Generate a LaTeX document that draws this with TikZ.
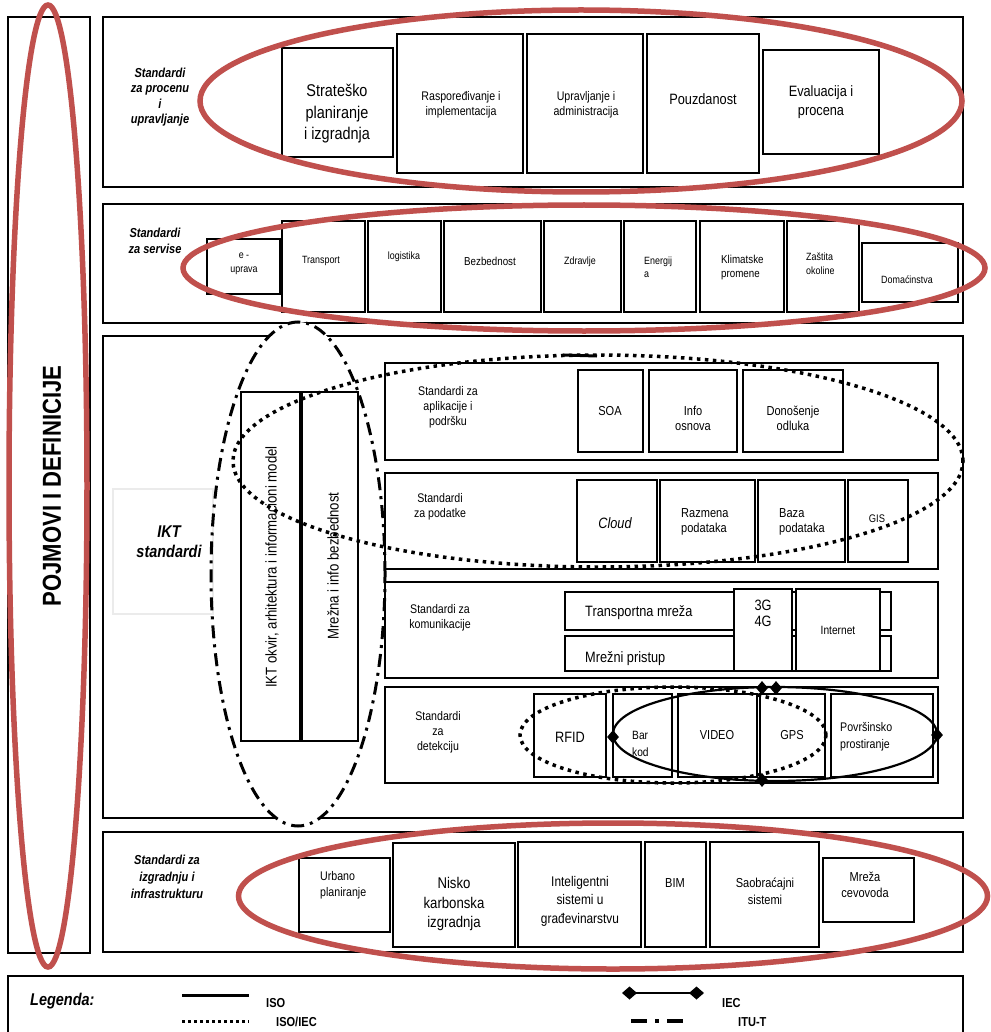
\documentclass[tikz,border=0pt]{standalone}
\usepackage{fontspec}
\setmainfont{Liberation Sans}[FakeStretch=0.85]
\usetikzlibrary{shapes.geometric,arrows.meta}
\definecolor{redE}{RGB}{192,80,77}
\newcommand\fz[2]{\fontsize{#1pt}{#2pt}\selectfont}
\begin{document}
\begin{tikzpicture}[x=1pt,y=-1pt,
  sec/.style={draw, line width=1.3pt, inner sep=0pt},
  box/.style={draw, line width=1.3pt, fill=white, inner sep=0pt},
  lbl/.style={font=\fz{13}{15.5}\bfseries\itshape, align=center, inner sep=0pt},
  tx/.style={align=center, inner sep=0pt},
  txl/.style={align=left, inner sep=0pt, anchor=west},
  redell/.style={ellipse, draw=redE, line width=5.5pt, inner sep=0pt},
  dotell/.style={ellipse, draw, line width=3.5pt, dash pattern=on 3.5pt off 4.5pt, inner sep=0pt},
  ddell/.style={ellipse, draw, line width=3pt, dash pattern=on 13pt off 6pt on 3pt off 6pt, inner sep=0pt},
  solell/.style={ellipse, draw, line width=2.2pt, inner sep=0pt},
  dia/.style={diamond, fill=black, minimum width=12pt, minimum height=14pt, inner sep=0pt},
]
\newcommand\bx[5]{\node[box, minimum width=#4pt, minimum height=#5pt] (#1) at (#2,#3) {};}
\useasboundingbox (0,0) rectangle (990,1032);
\fill[white] (0,0) rectangle (990,1032);
% sections
\node[sec, minimum width=82pt, minimum height=936pt] (defbox) at (49,485) {};
\node[sec, minimum width=860pt, minimum height=170pt] (sec1) at (533,102) {};
\node[sec, minimum width=860pt, minimum height=119pt] (sec2) at (533,263.5) {};
\node[sec, minimum width=860pt, minimum height=482pt] (sec3) at (533,577) {};
\node[sec, minimum width=860pt, minimum height=120pt] (sec4) at (533,892) {};
\node[sec, minimum width=955pt, minimum height=80pt] (legbox) at (485.5,1016) {};
\node[ellipse, fill=white, minimum width=174pt, minimum height=504pt, inner sep=0pt] (iktfill) at (298,574) {};
% section labels
\node[lbl] (l1) at (160,97) {Standardi\\za procenu\\i\\upravljanje};
\node[lbl] (l2) at (155,241) {Standardi\\za servise};
\node[lbl, font=\fz{13}{17}\bfseries\itshape] (l4) at (167,877) {Standardi za\\izgradnju i\\infrastrukturu};
% sec1
\bx{strat}{337.5}{102.5}{111}{109}
\bx{rasp}{460}{103.5}{126}{139}
\bx{uprav}{585}{103.5}{116}{139}
\bx{pouz}{703}{103.5}{112}{139}
\bx{evalb}{821}{102}{116}{104}
\node[tx, font=\fz{17}{21.5}] (stratT) at (337,114) {Strateško\\planiranje\\i izgradnja};
\node[tx, font=\fz{12.5}{15}] (raspT) at (461,105) {Raspoređivanje i\\implementacija};
\node[tx, font=\fz{12.5}{15}] (upravT) at (586,105) {Upravljanje i\\administracija};
\node[tx, font=\fz{15}{18}] (pouzT) at (703,99) {Pouzdanost};
\node[tx, font=\fz{15}{19}] (evalT) at (821,102.5) {Evaluacija i\\procena};
% sec2
\bx{eupr}{243.5}{266.5}{73}{55}
\bx{transp}{323.5}{266.5}{83}{91}
\bx{logist}{404.5}{266.5}{73}{91}
\bx{bezb}{492.5}{266.5}{97}{91}
\bx{zdrav}{582.5}{266.5}{77}{91}
\bx{energ}{660}{266.5}{72}{91}
\bx{klim}{742}{266.5}{84}{91}
\bx{zast}{823}{266.5}{72}{91}
\bx{domac}{910}{272.5}{96}{59}
\node[tx, font=\fz{10.5}{14}] (euprT) at (244,264) {e -\\uprava};
\node[tx, font=\fz{10.5}{14}] (transpT) at (321,261) {Transport};
\node[tx, font=\fz{10.5}{14}] (logistT) at (404,257) {logistika};
\node[tx, font=\fz{11.5}{14}] (bezbT) at (490,261) {Bezbednost};
\node[tx, font=\fz{10.5}{14}] (zdravT) at (580,262) {Zdravlje};
\node[txl, font=\fz{10.5}{13}] (energT) at (644,267) {Energij\\a};
\node[txl, font=\fz{11.5}{14}] (klimT) at (721,268) {Klimatske\\promene};
\node[txl, font=\fz{10.5}{14}] (zastT) at (806,264) {Zaštita\\okoline};
\node[tx, font=\fz{10.5}{14}] (domacT) at (907,280) {Domaćinstva};
% sec3
\node[draw=black!8, line width=1.2pt, minimum width=100pt, minimum height=125pt, inner sep=0pt] (iktgray) at (163,551.5) {};
\node[lbl, font=\fz{17}{20}\bfseries\itshape] (iktT) at (169,542) {IKT\\standardi};
\bx{iktokvir}{270.5}{566.5}{59}{349}
\bx{mrezna}{330}{566.5}{56}{349}
\node[tx, rotate=90, font=\fz{15.5}{17}] (iktokvirT) at (272,567) {IKT okvir, arhitektura i informacioni model};
\node[tx, rotate=90, font=\fz{15.5}{17}] (mreznaT) at (333,566) {Mrežna i info bezbednost};
\bx{apps}{661.5}{411.5}{553}{97}
\node[tx, font=\fz{12.5}{15}] (appsT) at (448,407) {Standardi za\\aplikacije i\\podršku};
\bx{soa}{610.5}{411}{65}{82}
\bx{info}{693}{411}{88}{82}
\bx{donos}{793}{411}{100}{82}
\node[tx, font=\fz{13}{15}] (soaT) at (610,411) {SOA};
\node[tx, font=\fz{13}{15}] (infoT) at (693,418.5) {Info\\osnova};
\node[tx, font=\fz{13}{15}] (donosT) at (793,418.5) {Donošenje\\odluka};
\bx{data}{661.5}{521}{553}{96}
\node[tx, font=\fz{12.5}{15}] (dataT) at (440,507) {Standardi\\za podatke};
\bx{cloud}{617}{521}{80}{82}
\bx{razm}{707.5}{521}{95}{82}
\bx{baza}{801.5}{521}{87}{82}
\bx{gis}{878}{521}{60}{82}
\node[tx, font=\fz{15}{18}\itshape] (cloudT) at (615,523) {Cloud};
\node[txl, font=\fz{13}{15.5}] (razmT) at (681,522) {Razmena\\podataka};
\node[txl, font=\fz{13}{15.5}] (bazaT) at (779,522) {Baza\\podataka};
\node[tx, font=\fz{11}{13}] (gisT) at (877,519) {GIS};
\bx{comm}{661.5}{630}{553}{96}
\node[tx, font=\fz{12.5}{15}] (commT) at (440,618) {Standardi za\\komunikacije};
\bx{transm}{728}{611}{326}{38}
\bx{mrezp}{728}{653.5}{326}{35}
\node[txl, font=\fz{15}{18}] (transmT) at (585,613) {Transportna mreža};
\begin{scope}
\clip (565,636) rectangle (891,667);
\node[txl, font=\fz{15}{18}] (mrezpT) at (585,659) {Mrežni pristup};
\end{scope}
\bx{g34}{763}{630}{58}{82}
\bx{internet}{838}{630}{84}{82}
\node[tx, font=\fz{15}{16}] (g34T) at (763,613) {3G\\4G};
\node[tx, font=\fz{12}{14}] (internetT) at (838,630) {Internet};
\bx{det}{661.5}{735}{553}{96}
\node[tx, font=\fz{12.5}{15}] (detT) at (438,732) {Standardi\\za\\detekciju};
\bx{rfid}{570}{735.5}{72}{83}
\bx{bar}{642.5}{735.5}{59}{83}
\bx{video}{717.5}{735.5}{79}{83}
\bx{gps}{792.5}{735.5}{65}{83}
\bx{povr}{882}{735.5}{102}{83}
\node[tx, font=\fz{15}{18}] (rfidT) at (570,737) {RFID};
\node[txl, font=\fz{12}{17}] (barT) at (632,744) {Bar\\kod};
\node[tx, font=\fz{13}{15}] (videoT) at (717,735) {VIDEO};
\node[tx, font=\fz{13}{15}] (gpsT) at (792,735) {GPS};
\node[txl, font=\fz{12.5}{17}] (povrT) at (840,737) {Površinsko\\prostiranje};
% sec4
\bx{urb}{344.5}{895}{91}{74}
\bx{nisko}{454}{895}{122}{104}
\bx{intel}{579.5}{894.5}{123}{105}
\bx{bim}{675.5}{894.5}{61}{105}
\bx{saob}{764.5}{894.5}{109}{105}
\bx{mreza}{868.5}{890}{91}{64}
\node[txl, font=\fz{12.5}{16}] (urbT) at (320,885) {Urbano\\planiranje};
\node[tx, font=\fz{15.5}{19.5}] (niskoT) at (454,904) {Nisko\\karbonska\\izgradnja};
\node[tx, font=\fz{14}{18.5}] (intelT) at (580,901) {Inteligentni\\sistemi u\\građevinarstvu};
\node[tx, font=\fz{13}{15}] (bimT) at (675,883) {BIM};
\node[tx, font=\fz{13}{17}] (saobT) at (765,891.5) {Saobraćajni\\sistemi};
\node[tx, font=\fz{13}{16}] (mrezaT) at (865,885) {Mreža\\cevovoda};
% overlays
\node[redell, minimum width=78pt, minimum height=962pt] (redL) at (48,486) {};
\node[tx, rotate=90, font=\fz{26}{30}\bfseries] (pojT) at (52,486) {POJMOVI I DEFINICIJE};
\node[redell, minimum width=762pt, minimum height=182pt] (red1) at (581,101) {};
\node[redell, minimum width=802pt, minimum height=126pt] (red2) at (584,268) {};
\node[redell, minimum width=749pt, minimum height=146pt] (red4) at (613,896) {};
\node[ddell, minimum width=174pt, minimum height=504pt] (iktell) at (298,574) {};
\node[dotell, minimum width=730pt, minimum height=212pt] (appell) at (598,461) {};
\node[dotell, minimum width=306pt, minimum height=96pt] (detdot) at (673,735) {};
\node[solell, minimum width=324pt, minimum height=94pt] (detsol) at (775,734) {};
\node[dia] (dL) at (613,737) {};
\node[dia] (dR) at (937,735) {};
\node[dia] (dT1) at (762,688) {};
\node[dia] (dT2) at (776,688) {};
\node[dia] (dB) at (762,780) {};
\coordinate (s1) at (563,355);
\coordinate (s2) at (597,356);
\draw[line width=3pt] (s1) -- (s2);
% legend
\node[txl, font=\fz{17}{20}\bfseries\itshape] (legT) at (30,1001) {Legenda:};
\coordinate (isoA) at (182,995);
\coordinate (isoB) at (249,995);
\draw[line width=3pt] (isoA) -- (isoB);
\node[txl, font=\fz{13}{15}\bfseries] (isoT) at (266,1003) {ISO};
\coordinate (isoiecA) at (182,1021);
\coordinate (isoiecB) at (249,1021);
\draw[line width=3pt, dash pattern=on 3pt off 3pt] (isoiecA) -- (isoiecB);
\node[txl, font=\fz{13}{15}\bfseries] (isoiecT) at (276,1022) {ISO/IEC};
\coordinate (iecA) at (622,993);
\coordinate (iecB) at (704,993);
\draw[line width=2.5pt, {Diamond[length=15pt,width=13pt]}-{Diamond[length=15pt,width=13pt]}] (iecA) -- (iecB);
\node[txl, font=\fz{13}{15}\bfseries] (iecT) at (722,1003) {IEC};
\coordinate (ituA) at (631,1021);
\coordinate (ituB) at (688,1021);
\draw[line width=3.5pt, dash pattern=on 16pt off 8pt on 4pt off 8pt] (ituA) -- (ituB);
\node[txl, font=\fz{13}{15}\bfseries] (ituT) at (738,1022) {ITU-T};
\end{tikzpicture}
\end{document}
